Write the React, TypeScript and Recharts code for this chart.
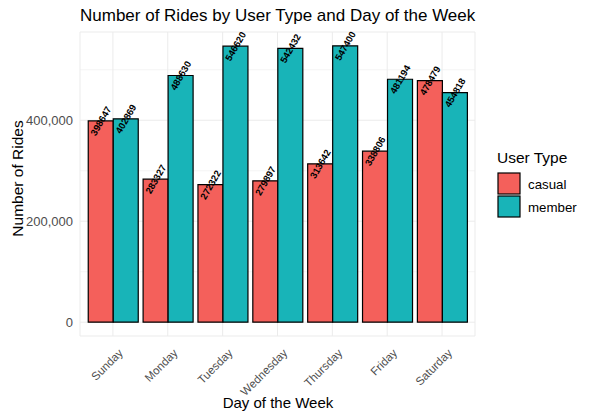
import React from "react";
import { BarChart, Bar, XAxis, YAxis, CartesianGrid, LabelList } from "recharts";

const days = ["Sunday", "Monday", "Tuesday", "Wednesday", "Thursday", "Friday", "Saturday"];
const casual = [398647, 283327, 272322, 279897, 313642, 338806, 478479];
const member = [402869, 488630, 546620, 542432, 547400, 481194, 454818];
const yTicks = [0, 200000, 400000];
const minorTicks = [100000, 300000, 500000];

const data = days.map((d, i) => ({ day: d, casual: casual[i], member: member[i] }));

const CASUAL = "#F4605B";
const MEMBER = "#18B4B8";
const FONT = "'Liberation Sans', Arial, sans-serif";

const ValueLabel = (props: any) => {
  const { x, y, width, value } = props;
  const cx = x + width / 2;
  return (
    <text
      x={cx}
      y={y}
      transform={`rotate(-60, ${cx}, ${y})`}
      textAnchor="middle"
      dominantBaseline="central"
      fontSize={9.5}
      fontWeight="bold"
      fill="#000"
      fontFamily={FONT}
    >
      {value}
    </text>
  );
};

const XTick = (props: any) => {
  const { x, y, payload } = props;
  return (
    <text
      x={x + 5}
      y={y + 4}
      transform={`rotate(-45, ${x + 5}, ${y + 4})`}
      textAnchor="end"
      dominantBaseline="hanging"
      fontSize={11.5}
      fill="#4d4d4d"
      fontFamily={FONT}
    >
      {payload.value}
    </text>
  );
};

const YTick = (props: any) => {
  const { x, y, payload } = props;
  return (
    <text
      x={x}
      y={y}
      textAnchor="end"
      dominantBaseline="central"
      fontSize={13}
      fill="#4d4d4d"
      fontFamily={FONT}
    >
      {Number(payload.value).toLocaleString("en-US")}
    </text>
  );
};

export default function App() {
  return (
    <div style={{ position: "absolute", left: 0, top: 0, width: 592, height: 419, background: "#fff", fontFamily: FONT }}>
      <BarChart
        width={592}
        height={419}
        data={data}
        margin={{ top: 32, right: 117, bottom: 0, left: 0 }}
        barCategoryGap="5%"
        barGap={0}
      >
        <CartesianGrid stroke="#f3f3f3" strokeWidth={0.8} vertical={false} horizontalValues={minorTicks} />
        <CartesianGrid stroke="#ebebeb" strokeWidth={1} vertical={true} horizontal={true} />
        <XAxis
          dataKey="day"
          type="category"
          height={83}
          padding={{ left: 5.5, right: 5.5 }}
          axisLine={false}
          tickLine={false}
          tick={<XTick />}
          interval={0}
        />
        <YAxis
          type="number"
          domain={[-27370, 574770]}
          ticks={yTicks}
          width={80}
          axisLine={false}
          tickLine={false}
          tickSize={4}
          tickMargin={3}
          tick={<YTick />}
        />
        <Bar dataKey="casual" fill={CASUAL} stroke="#000" strokeWidth={1.2} isAnimationActive={false}>
          <LabelList dataKey="casual" content={<ValueLabel />} />
        </Bar>
        <Bar dataKey="member" fill={MEMBER} stroke="#000" strokeWidth={1.2} isAnimationActive={false}>
          <LabelList dataKey="member" content={<ValueLabel />} />
        </Bar>
      </BarChart>
      <svg width={592} height={419} style={{ position: "absolute", left: 0, top: 0, pointerEvents: "none" }}>
        <text x={80} y={21} fontSize={17} fill="#000" fontFamily={FONT}>
          Number of Rides by User Type and Day of the Week
        </text>
        <text
          x={23}
          y={178.5}
          transform="rotate(-90, 23, 178.5)"
          textAnchor="middle"
          fontSize={15.5}
          fill="#000"
          fontFamily={FONT}
        >
          Number of Rides
        </text>
        <text x={278} y={408} textAnchor="middle" fontSize={15} fill="#000" fontFamily={FONT}>
          Day of the Week
        </text>
        <text x={497} y={163} fontSize={15.5} fill="#000" fontFamily={FONT}>
          User Type
        </text>
        <rect x={498} y={173} width={22} height={21} fill={CASUAL} stroke="#000" strokeWidth={1.2} />
        <rect x={498} y={196} width={22} height={21} fill={MEMBER} stroke="#000" strokeWidth={1.2} />
        <text x={528} y={184.5} dominantBaseline="central" fontSize={13.3} fill="#000" fontFamily={FONT}>
          casual
        </text>
        <text x={528} y={207.5} dominantBaseline="central" fontSize={13.3} fill="#000" fontFamily={FONT}>
          member
        </text>
      </svg>
    </div>
  );
}
